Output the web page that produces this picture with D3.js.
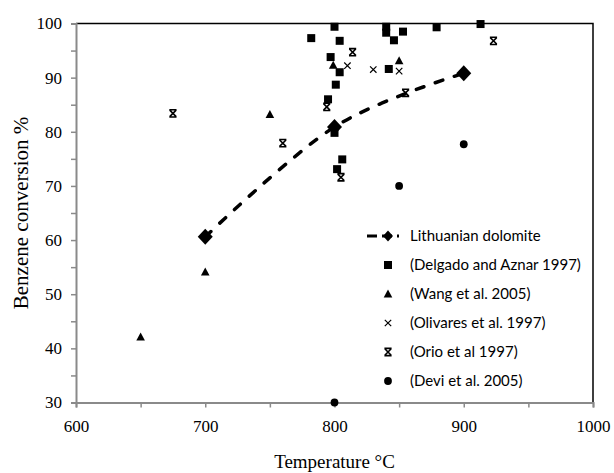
<!DOCTYPE html>
<html>
<head>
<meta charset="utf-8">
<script src="https://cdn.jsdelivr.net/npm/d3@7"></script>
<style>
html,body{margin:0;padding:0;background:#fff;}
svg{display:block;}
</style>
</head>
<body>
<svg id="chart" width="614" height="473"></svg>
<script>
// ---- data ----
const xTickValues = [600, 650, 700, 750, 800, 850, 900, 950, 1000];
const yTickValues = [30, 35, 40, 45, 50, 55, 60, 65, 70, 75, 80, 85, 90, 95, 100];
const xLabelValues = [600, 700, 800, 900, 1000];
const yLabelValues = [30, 40, 50, 60, 70, 80, 90, 100];

const lithuanianX = [700, 800, 900];
const lithuanianY = [60.6, 80.9, 90.8];

const delgadoX = [800, 782, 804, 797, 804, 801, 795, 840, 840, 846, 853, 842, 806, 802, 800, 879, 913];
const delgadoY = [99.4, 97.3, 96.8, 93.8, 91.0, 88.7, 86.0, 99.4, 98.3, 96.9, 98.5, 91.6, 74.9, 73.1, 79.8, 99.3, 99.9];

const wangX = [650, 700, 750, 799, 850];
const wangY = [42.1, 54.1, 83.2, 92.3, 93.1];

const olivaresX = [810, 830, 850];
const olivaresY = [92.2, 91.5, 91.2];

const orioX = [675, 760, 794, 805, 814, 855, 923];
const orioY = [83.4, 77.9, 84.6, 71.6, 94.7, 87.2, 96.8];

const deviX = [800, 850, 900];
const deviY = [30.0, 70.0, 77.7];

const legendNames = ["Lithuanian dolomite", "(Delgado and Aznar 1997)", "(Wang et al. 2005)",
                     "(Olivares et al. 1997)", "(Orio et al 1997)", "(Devi et al. 2005)"];
const legendSymbols = ["line", "square", "triangle", "cross", "star", "circle"];

const xTitle = "Temperature \u00B0C";
const yTitle = "Benzene conversion  %";

// ---- layout ----
const svg = d3.select("#chart");
const plotL = 76, plotR = 593, plotT = 23.5, plotB = 402.5;
const x = d3.scaleLinear().domain([600, 1000]).range([plotL, plotR]);
const y = d3.scaleLinear().domain([30, 100]).range([plotB, plotT]);

const serif = "'Liberation Serif','Times New Roman',serif";
const axisGray = "#8a8a8a";

// frame (top & right black)
svg.append("path")
  .attr("d", `M${plotL},${plotT}H${plotR}V${plotB}`)
  .attr("fill", "none").attr("stroke", "#000").attr("stroke-width", 1.5);

// y axis
const yAxis = d3.axisLeft(y).tickValues(yTickValues).tickSize(5).tickPadding(9)
  .tickFormat(d => yLabelValues.includes(d) ? d3.format("d")(d) : "");
const gy = svg.append("g").attr("transform", `translate(${plotL},0)`).call(yAxis);
gy.select(".domain").attr("stroke", axisGray).attr("stroke-width", 2);
gy.selectAll(".tick line").attr("stroke", axisGray).attr("stroke-width", 1.5);
gy.selectAll(".tick text").attr("font-family", serif).attr("font-size", 17).attr("fill", "#000");

// x axis
const xAxis = d3.axisBottom(x).tickValues(xTickValues).tickSize(5).tickPadding(12.5)
  .tickFormat(d => xLabelValues.includes(d) ? d3.format("d")(d) : "");
const gx = svg.append("g").attr("transform", `translate(0,${plotB})`).call(xAxis);
gx.select(".domain").attr("stroke", axisGray).attr("stroke-width", 2);
gx.selectAll(".tick line").attr("stroke", axisGray).attr("stroke-width", 1.5);
gx.selectAll(".tick text").attr("font-family", serif).attr("font-size", 17).attr("fill", "#000");

// axis titles
svg.append("text").attr("x", (plotL + plotR) / 2).attr("y", 468)
  .attr("text-anchor", "middle").attr("font-family", serif).attr("font-size", 19)
  .text(xTitle);
svg.append("text").attr("transform", `translate(28,${(plotT + plotB) / 2}) rotate(-90)`)
  .attr("text-anchor", "middle").attr("font-family", serif).attr("font-size", 21)
  .text(yTitle);

// ---- marker shapes ----
function drawSymbol(g, type, cx, cy, big) {
  const s = g.append("g").attr("transform", `translate(${cx},${cy})`);
  if (type === "square") {
    s.append("rect").attr("x", -4).attr("y", -4).attr("width", 8).attr("height", 8).attr("fill", "#000");
  } else if (type === "triangle") {
    s.append("path").attr("d", "M0,-4.5L4.3,3.5L-4.3,3.5Z").attr("fill", "#000");
  } else if (type === "circle") {
    s.append("circle").attr("r", 3.9).attr("fill", "#000");
  } else if (type === "cross") {
    s.append("path").attr("d", "M-3.2,-3.2L3.2,3.2M3.2,-3.2L-3.2,3.2")
      .attr("stroke", "#000").attr("stroke-width", 1.2).attr("fill", "none");
  } else if (type === "star") {
    s.append("path").attr("d", "M-3.2,-3.2L3.2,3.2M3.2,-3.2L-3.2,3.2M-3.6,-3.6H3.6M-3.6,3.6H3.6")
      .attr("stroke", "#000").attr("stroke-width", 1.6).attr("fill", "none");
  } else if (type === "diamond") {
    const h = big ? 8 : 5.5, w = big ? 7.5 : 5;
    s.append("path").attr("d", `M0,${-h}L${w},0L0,${h}L${-w},0Z`).attr("fill", "#000");
  }
}

const pts = svg.append("g");
function plotSeries(xs, ys, type) {
  xs.forEach((v, i) => drawSymbol(pts, type, x(v), y(ys[i]), false));
}
plotSeries(delgadoX, delgadoY, "square");
plotSeries(wangX, wangY, "triangle");
plotSeries(olivaresX, olivaresY, "cross");
plotSeries(orioX, orioY, "star");
plotSeries(deviX, deviY, "circle");

// Lithuanian dolomite smoothed dashed line + diamonds
const line = d3.line().x(d => x(d[0])).y(d => y(d[1])).curve(d3.curveCardinal.tension(0));
svg.append("path").datum(lithuanianX.map((v, i) => [v, lithuanianY[i]]))
  .attr("d", line).attr("fill", "none").attr("stroke", "#000")
  .attr("stroke-width", 3.5).attr("stroke-dasharray", "8,12").attr("stroke-linecap", "round");
lithuanianX.forEach((v, i) => drawSymbol(svg, "diamond", x(v), y(lithuanianY[i]), true));

// ---- legend ----
const lg = svg.append("g");
const legendTop = 236, legendStep = 29;
legendNames.forEach((name, i) => {
  const cy = legendTop + i * legendStep;
  const sym = legendSymbols[i];
  if (sym === "line") {
    lg.append("line").attr("x1", 367).attr("x2", 399).attr("y1", cy).attr("y2", cy)
      .attr("stroke", "#000").attr("stroke-width", 3).attr("stroke-dasharray", "10,5");
    drawSymbol(lg, "diamond", 388, cy, false);
  } else {
    drawSymbol(lg, sym, 388, cy, false);
  }
  lg.append("text").attr("x", 410).attr("y", cy).attr("dy", "0.35em")
    .attr("font-family", "Lato, 'Open Sans', sans-serif").attr("font-size", 15)
    .attr("fill", "#000").text(name);
});
</script>
</body>
</html>
